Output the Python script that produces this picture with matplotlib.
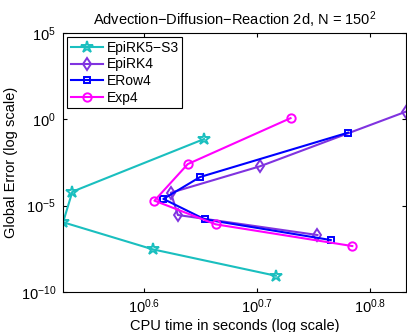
import matplotlib
matplotlib.use("Agg")
import matplotlib.pyplot as plt
import numpy as np

plt.rcParams['font.family'] = ['Liberation Sans', 'DejaVu Sans']
plt.rcParams['mathtext.default'] = 'regular'

# log10 of CPU time and log10 of global error
epirk5_x = [0.653, 0.5364, 0.5282, 0.6077, 0.7166]
epirk5_y = [-1.14, -4.19, -5.96, -7.53, -9.06]

epirk4_x = [0.8315, 0.7025, 0.6236, 0.6298, 0.7534]
epirk4_y = [0.44, -2.72, -4.25, -5.54, -6.70]

erow4_x = [0.7805, 0.6495, 0.6170, 0.6536, 0.7652]
erow4_y = [-0.77, -3.34, -4.61, -5.79, -6.99]

exp4_x = [0.7296, 0.6386, 0.6091, 0.6633, 0.7843]
exp4_y = [0.07, -2.59, -4.71, -6.08, -7.34]

x_ticks = [0.6, 0.7, 0.8]
y_ticks = [-10, -5, 0, 5]

series = [
    ("EpiRK5\u2212S3", epirk5_x, epirk5_y, (0.1, 0.75, 0.75), '*', 9),
    ("EpiRK4", epirk4_x, epirk4_y, (0.5, 0.2, 0.88), 'd', 6),
    ("ERow4", erow4_x, erow4_y, (0.0, 0.0, 1.0), 's', 5),
    ("Exp4", exp4_x, exp4_y, (1.0, 0.0, 1.0), 'o', 6),
]

fig = plt.figure(figsize=(4.07, 3.32), dpi=100)
ax = fig.add_axes([0.155, 0.1205, 0.8425, 0.78])

for name, xs, ys, col, mk, ms in series:
    ax.plot(10 ** np.array(xs), 10 ** np.array(ys), color=col, marker=mk,
            markersize=ms, markerfacecolor='none', markeredgewidth=1.4,
            linewidth=1.5, label=name)

ax.set_xscale('log')
ax.set_yscale('log')
ax.set_xlim(10 ** 0.5282, 10 ** 0.8318)
ax.set_ylim(1e-10, 1e5)
ax.minorticks_off()
ax.set_xticks([10 ** v for v in x_ticks])
ax.set_xticklabels(['$10^{%g}$' % v for v in x_ticks])
ax.set_yticks([10.0 ** v for v in y_ticks])
ax.set_yticklabels(['$10^{%d}$' % v for v in y_ticks])
ax.minorticks_off()
ax.tick_params(direction='in', length=3, top=True, right=True, labelsize=10.5)
ax.tick_params(axis='x', pad=4)
ax.tick_params(axis='y', pad=5)

ax.set_xlabel("CPU time in seconds (log scale)", fontsize=10.5)
ax.xaxis.set_label_coords(0.5, -0.104)
ax.set_ylabel("Global Error (log scale)", fontsize=10.5, labelpad=2)
ax.set_title("Advection\u2212Diffusion\u2212Reaction 2d, N = $150^2$", fontsize=10.5, pad=6)

leg = ax.legend(loc='upper left', fontsize=10, fancybox=False, framealpha=1,
                edgecolor='black', labelspacing=0.2, borderpad=0.25,
                handlelength=2.3, handletextpad=0.3, borderaxespad=0.3)
leg.get_frame().set_linewidth(0.8)

fig.savefig("out.png", dpi=100)
